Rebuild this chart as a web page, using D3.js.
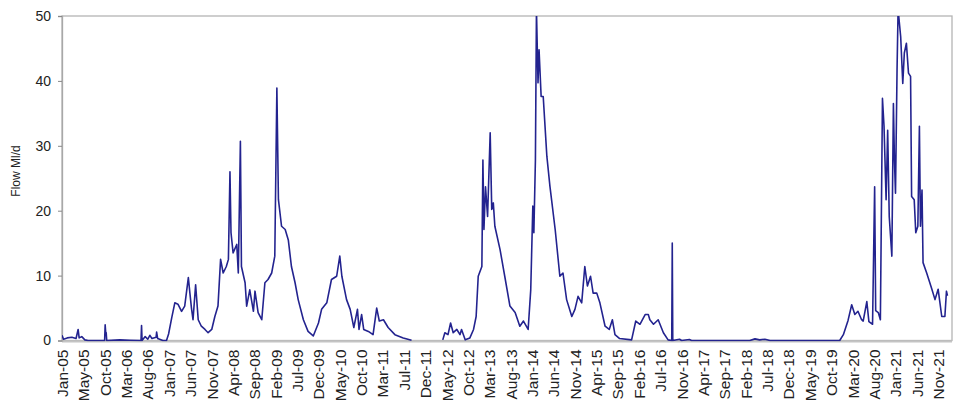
<!DOCTYPE html>
<html>
<head>
<meta charset="utf-8">
<script src="https://cdn.jsdelivr.net/npm/d3@7"></script>
<style>
  html, body { margin: 0; padding: 0; background: #ffffff; }
  svg { display: block; }
  text { font-family: "Liberation Sans", Arial, sans-serif; }
</style>
</head>
<body>
<svg id="chart" width="957" height="406"></svg>
<script>
// ---- Data ----
// Time of each reading as a decimal year; null value = no data (gap)
const flowYears = [
  2005.00, 2005.03, 2005.10, 2005.19, 2005.27, 2005.31, 2005.33, 2005.38, 2005.44, 2005.50,
  2005.82, 2005.83, 2005.84, 2005.85, 2005.86, 2006.11, 2006.31, 2006.52, 2006.53, 2006.54,
  2006.60, 2006.65, 2006.69, 2006.73, 2006.81, 2006.82, 2006.84, 2006.94, 2007.01, 2007.05,
  2007.11, 2007.17, 2007.23, 2007.30, 2007.36, 2007.43, 2007.46, 2007.49, 2007.52, 2007.57,
  2007.62, 2007.68, 2007.75, 2007.81, 2007.88, 2007.94, 2008.00, 2008.05, 2008.10, 2008.16,
  2008.20, 2008.23, 2008.25, 2008.29, 2008.36, 2008.39, 2008.43, 2008.45, 2008.52, 2008.55,
  2008.61, 2008.68, 2008.71, 2008.77, 2008.84, 2008.90, 2008.96, 2009.03, 2009.09, 2009.13,
  2009.16, 2009.22, 2009.29, 2009.35, 2009.41, 2009.48, 2009.54, 2009.64, 2009.73, 2009.83,
  2009.93, 2009.99, 2010.09, 2010.18, 2010.28, 2010.34, 2010.38, 2010.47, 2010.54, 2010.61,
  2010.68, 2010.71, 2010.76, 2010.80, 2010.89, 2010.98, 2011.05, 2011.10, 2011.18, 2011.27,
  2011.40, 2011.56, 2011.72, 2012.00, 2012.32, 2012.36, 2012.42, 2012.47, 2012.52, 2012.59,
  2012.65, 2012.68, 2012.75, 2012.84, 2012.91, 2012.96, 2013.00, 2013.07, 2013.09, 2013.11,
  2013.14, 2013.18, 2013.23, 2013.26, 2013.29, 2013.32, 2013.42, 2013.51, 2013.61, 2013.71,
  2013.80, 2013.87, 2013.96, 2014.01, 2014.05, 2014.07, 2014.10, 2014.12, 2014.15, 2014.17,
  2014.21, 2014.25, 2014.32, 2014.38, 2014.48, 2014.57, 2014.63, 2014.70, 2014.80, 2014.86,
  2014.92, 2014.99, 2015.05, 2015.10, 2015.16, 2015.21, 2015.28, 2015.34, 2015.44, 2015.52,
  2015.58, 2015.63, 2015.72, 2015.95, 2016.03, 2016.11, 2016.21, 2016.27, 2016.30, 2016.37,
  2016.46, 2016.56, 2016.65, 2016.72, 2016.73, 2016.74, 2016.87, 2016.91, 2017.06, 2017.10,
  2018.22, 2018.32, 2018.41, 2018.51, 2018.61, 2019.95, 2020.02, 2020.11, 2020.18, 2020.24,
  2020.30, 2020.37, 2020.40, 2020.47, 2020.51, 2020.58, 2020.62, 2020.64, 2020.69, 2020.73,
  2020.77, 2020.80, 2020.84, 2020.87, 2020.90, 2020.95, 2020.98, 2021.00, 2021.02, 2021.05,
  2021.07, 2021.12, 2021.16, 2021.19, 2021.23, 2021.27, 2021.31, 2021.33, 2021.38, 2021.41,
  2021.45, 2021.48, 2021.50, 2021.53, 2021.55, 2021.62, 2021.72, 2021.78, 2021.84, 2021.91,
  2021.97, 2022.00, 2022.02
];
const flowValues = [
  0.8, 0.2, 0.4, 0.5, 0.3, 1.7, 0.4, 0.6, 0.1, 0.0,
  0.0, 2.4, 1.3, 1.2, 0.0, 0.1, 0.05, 0.0, 2.3, 0.0,
  0.6, 0.2, 0.8, 0.3, 0.5, 1.3, 0.3, 0.0, 0.0, 1.0,
  3.5, 5.8, 5.6, 4.5, 5.3, 9.7, 7.3, 5.0, 3.2, 8.6,
  3.2, 2.2, 1.7, 1.2, 1.7, 3.7, 5.3, 12.5, 10.4, 11.4,
  12.5, 26.0, 16.6, 13.5, 14.8, 10.4, 30.7, 11.4, 8.9, 5.3,
  7.8, 4.5, 7.6, 4.3, 3.2, 8.9, 9.4, 10.4, 13.0, 38.9,
  21.7, 17.6, 17.1, 15.5, 11.4, 8.9, 6.3, 3.2, 1.4, 0.7,
  2.7, 4.8, 5.8, 9.4, 9.9, 13.0, 9.9, 6.3, 4.8, 2.0,
  4.8, 1.7, 4.0, 1.7, 1.4, 0.9, 5.0, 3.0, 3.2, 2.0,
  0.9, 0.4, 0.05, null, 0.1, 1.2, 0.9, 2.7, 1.2, 1.7,
  0.9, 1.7, 0.1, 0.4, 1.7, 3.7, 9.9, 11.4, 27.8, 17.1,
  23.7, 19.1, 32.0, 20.2, 21.2, 17.6, 14.0, 9.9, 5.3, 4.3,
  2.2, 3.0, 1.7, 7.8, 20.7, 16.6, 27.8, 51.0, 39.7, 44.8,
  37.6, 37.6, 28.4, 23.7, 17.1, 9.9, 10.4, 6.3, 3.7, 4.8,
  6.8, 5.8, 11.4, 8.4, 9.9, 7.3, 7.3, 5.8, 2.2, 1.7,
  3.2, 0.9, 0.3, 0.1, 3.0, 2.5, 4.0, 4.0, 3.2, 2.5,
  3.2, 1.2, 0.1, 0.0, 15.0, 0.0, 0.2, 0.0, 0.15, 0.0,
  0.0, 0.25, 0.1, 0.2, 0.0, 0.0, 0.9, 3.1, 5.5, 4.0,
  4.5, 3.2, 3.0, 6.0, 2.9, 2.5, 23.7, 4.6, 4.3, 3.2,
  37.3, 33.0, 21.7, 32.4, 19.1, 13.0, 36.5, 27.8, 22.7, 41.7,
  51.0, 46.8, 39.6, 44.3, 45.8, 41.2, 40.7, 22.2, 21.7, 16.6,
  17.6, 33.0, 17.6, 23.2, 12.0, 10.4, 7.9, 6.3, 7.9, 3.7,
  3.7, 7.6, 6.9
];

// x-axis tick dates and labels
const tickDates = [
  "2005-01-01","2005-05-31","2005-10-28","2006-03-27","2006-08-24","2007-01-21","2007-06-20",
  "2007-11-17","2008-04-15","2008-09-12","2009-02-09","2009-07-09","2009-12-06","2010-05-05",
  "2010-10-02","2011-03-01","2011-07-29","2011-12-26","2012-05-24","2012-10-21","2013-03-20",
  "2013-08-17","2014-01-14","2014-06-13","2014-11-10","2015-04-09","2015-09-06","2016-02-03",
  "2016-07-02","2016-11-29","2017-04-28","2017-09-25","2018-02-22","2018-07-22","2018-12-19",
  "2019-05-18","2019-10-15","2020-03-13","2020-08-10","2021-01-07","2021-06-06","2021-11-03"
];
const tickLabels = [
  "Jan-05","May-05","Oct-05","Mar-06","Aug-06","Jan-07","Jun-07",
  "Nov-07","Apr-08","Sep-08","Feb-09","Jul-09","Dec-09","May-10",
  "Oct-10","Mar-11","Jul-11","Dec-11","May-12","Oct-12","Mar-13",
  "Aug-13","Jan-14","Jun-14","Nov-14","Apr-15","Sep-15","Feb-16",
  "Jul-16","Nov-16","Apr-17","Sep-17","Feb-18","Jul-18","Dec-18",
  "May-19","Oct-19","Mar-20","Aug-20","Jan-21","Jun-21","Nov-21"
];
const yTicks = [0, 10, 20, 30, 40, 50];
const yTitle = "Flow Ml/d";

// ---- Drawing ----
const svg = d3.select("#chart");
const mLeft = 62, mRight = 952, mTop = 16, mBottom = 340.5;

function yearToDate(t) {
  const yr = Math.floor(t);
  const start = new Date(yr, 0, 1).getTime();
  const end = new Date(yr + 1, 0, 1).getTime();
  return new Date(start + (t - yr) * (end - start));
}
const parse = d3.timeParse("%Y-%m-%d");

const x = d3.scaleTime()
  .domain([new Date(2005, 0, 1), new Date(2022, 1, 9)])
  .range([mLeft, mRight]);
const y = d3.scaleLinear().domain([0, 50]).range([mBottom, mTop]);

svg.append("rect").attr("width", 957).attr("height", 406).attr("fill", "#fff");

// plot frame
svg.append("rect")
  .attr("x", mLeft).attr("y", mTop)
  .attr("width", mRight - mLeft).attr("height", mBottom - mTop)
  .attr("fill", "none").attr("stroke", "#b4b4b4").attr("stroke-width", 1.3);

// clip
svg.append("clipPath").attr("id", "clip")
  .append("rect").attr("x", mLeft).attr("y", mTop)
  .attr("width", mRight - mLeft).attr("height", mBottom - mTop + 1);

// x axis baseline
svg.append("line")
  .attr("x1", mLeft).attr("x2", mRight)
  .attr("y1", mBottom + 1).attr("y2", mBottom + 1)
  .attr("stroke", "#c4c4c4").attr("stroke-width", 2);

// y axis
const yAxis = svg.append("g")
  .attr("transform", `translate(${mLeft},0)`)
  .call(d3.axisLeft(y).tickValues(yTicks).tickSize(4).tickPadding(7));
yAxis.select(".domain").attr("stroke", "#a8a8a8").attr("stroke-width", 1.3);
yAxis.selectAll(".tick line").attr("stroke", "#888");
yAxis.selectAll(".tick text")
  .attr("fill", "#222").attr("font-size", "14px")
  .attr("font-family", "'Liberation Sans', Arial, sans-serif");

// x axis labels
const xAxis = svg.append("g")
  .attr("transform", `translate(0,${mBottom + 1})`)
  .call(d3.axisBottom(x)
    .tickValues(tickDates.map(parse))
    .tickFormat((d, i) => tickLabels[i])
    .tickSize(0));
xAxis.select(".domain").remove();
xAxis.selectAll(".tick text")
  .attr("fill", "#222").attr("font-size", "15.5px")
  .attr("font-family", "'Liberation Sans', Arial, sans-serif")
  .attr("text-anchor", "end")
  .attr("transform", "rotate(-90)")
  .attr("x", -8).attr("y", 0).attr("dy", "0.35em");

// y title
svg.append("text")
  .attr("transform", "translate(16,171) rotate(-90)")
  .attr("text-anchor", "middle").attr("dy", "0.35em")
  .attr("font-size", "12px").attr("fill", "#222")
  .text(yTitle);

// line
const points = flowYears.map((t, i) => ({ d: yearToDate(t), v: flowValues[i] }));
const line = d3.line()
  .defined(p => p.v !== null)
  .x(p => x(p.d))
  .y(p => y(p.v));
svg.append("path")
  .datum(points)
  .attr("clip-path", "url(#clip)")
  .attr("fill", "none")
  .attr("stroke", "#23238f")
  .attr("stroke-width", 1.6)
  .attr("stroke-linejoin", "round")
  .attr("d", line);
</script>
</body>
</html>
